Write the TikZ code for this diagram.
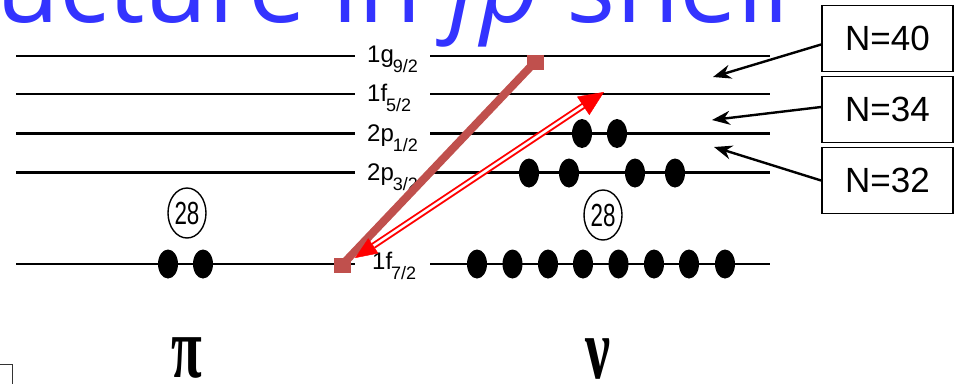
\documentclass[tikz,border=0pt]{standalone}
\usepackage{fontspec}
\usepackage{graphicx}
\setmainfont{Liberation Sans}
\newfontfamily\titlefont{Open Sans}
\newfontfamily\greekfont{Liberation Serif}
\usetikzlibrary{arrows.meta,shapes.geometric,calc}
\definecolor{brn}{RGB}{192,80,77}
\definecolor{ttl}{RGB}{51,51,255}
\newcommand\lsub[1]{\kern-1pt\raisebox{-10pt}{\fontsize{18}{18}\selectfont #1}}
\tikzset{
  lvlline/.style={line width=2.4pt},
  lvl/.style={anchor=base west, inner sep=0pt, font=\fontsize{24}{24}\selectfont},
  nbox/.style={draw, line width=1.8pt, minimum width=131pt, minimum height=66pt, inner sep=0pt, font=\fontsize{35}{35}\selectfont},
  ptr/.style={line width=2.4pt, -{Stealth[length=18pt,width=14pt]}},
  magic/.style={ellipse, draw, line width=1.4pt, minimum width=38pt, minimum height=50pt, inner sep=0pt, font=\fontsize{32}{32}\selectfont},
  sq/.style={fill=brn, minimum width=17pt, minimum height=15pt, inner sep=0pt},
  greek/.style={inner sep=0pt, font=\greekfont\bfseries\fontsize{56}{56}\selectfont}
}
\begin{document}
\begin{tikzpicture}[x=1pt,y=-1pt]
\useasboundingbox (0,0) rectangle (957,384);
\begin{scope}
\clip (0,0) rectangle (957,384);
\node[anchor=base west, text=ttl, inner sep=0pt, font=\titlefont\fontsize{103}{103}\selectfont] (title) at (-4,22) {ucture in \textit{fp} shell};
\end{scope}

% levels
\foreach \n/\y in {g9/56, f5/94, p1/133.5, p3/172.5, f7/264}{
  \coordinate (\n a) at (16,\y);
  \coordinate (\n b) at (355,\y);
  \coordinate (\n c) at (430,\y);
  \coordinate (\n d) at (770,\y);
  \draw[lvlline] (\n a) -- (\n b);
  \draw[lvlline] (\n c) -- (\n d);
}

% level labels
\node[lvl] (lg9) at (367,62) {1g\lsub{9/2}};
\node[lvl] (lf5) at (367,101) {1f\lsub{5/2}};
\node[lvl] (lp1) at (367,141) {2p\lsub{1/2}};
\node[lvl] (lp3) at (367,180) {2p\lsub{3/2}};
\node[lvl] (lf7) at (372,269) {1f\lsub{7/2}};

% particles
\foreach \x in {168,203}{ \fill (\x,264) ellipse (10pt and 14.5pt); }
\foreach \x in {477,512.5,548,583,618.5,654,689,725}{ \fill (\x,264) ellipse (10pt and 14.5pt); }
\foreach \x in {529,569,635,675}{ \fill (\x,173) ellipse (10pt and 14.5pt); }
\foreach \x in {582,617}{ \fill (\x,133.5) ellipse (10pt and 14.5pt); }

% magic numbers
\node[magic] (m28p) at (187,213) {\scalebox{0.7}[1]{28}};
\node[magic] (m28n) at (603,215) {\scalebox{0.7}[1]{28}};

% brown excitation
\node[sq] (bs) at (342,265) {};
\node[sq] (bt) at (535,62) {};
\draw[brn, line width=8pt] (bs.center) -- (bt.center);

% red double arrow
\coordinate (ra) at (355,258);
\coordinate (rb) at (604,92);
\draw[red, double=white, line width=1.9pt, double distance=2.6pt, shorten <=22pt, shorten >=22pt] (ra) -- (rb);
\draw[red, line width=0.4pt, -{Triangle[length=25pt,width=22pt]}] ($(rb)!25pt!(ra)$) -- (rb);
\draw[red, line width=0.4pt, -{Triangle[length=22pt,width=18pt]}] ($(ra)!22pt!(rb)$) -- (ra);

% N boxes
\node[nbox] (n40) at (887.5,38.5) {N=40};
\node[nbox] (n34) at (887.5,109.5) {N=34};
\node[nbox] (n32) at (887.5,180.5) {N=32};
\coordinate (t40) at (713,77);
\coordinate (t34) at (712,120);
\coordinate (t32) at (714,147);
\draw[ptr] ([yshift=-6pt]n40.west) -- (t40);
\draw[ptr] ([yshift=2.5pt]n34.west) -- (t34);
\draw[ptr] (n32.west) -- (t32);

% greek labels
\node[greek] (pi) at (187,358) {\scalebox{1}[1.55]{π}};
\node[greek] (nu) at (598,359) {\scalebox{1}[1.55]{ν}};

% corner mark
\coordinate (ka) at (0,364);
\coordinate (kb) at (12,364);
\coordinate (kc) at (12,384);
\draw[line width=1pt, black!80] (ka) -- (kb) -- (kc);
\end{tikzpicture}
\end{document}
